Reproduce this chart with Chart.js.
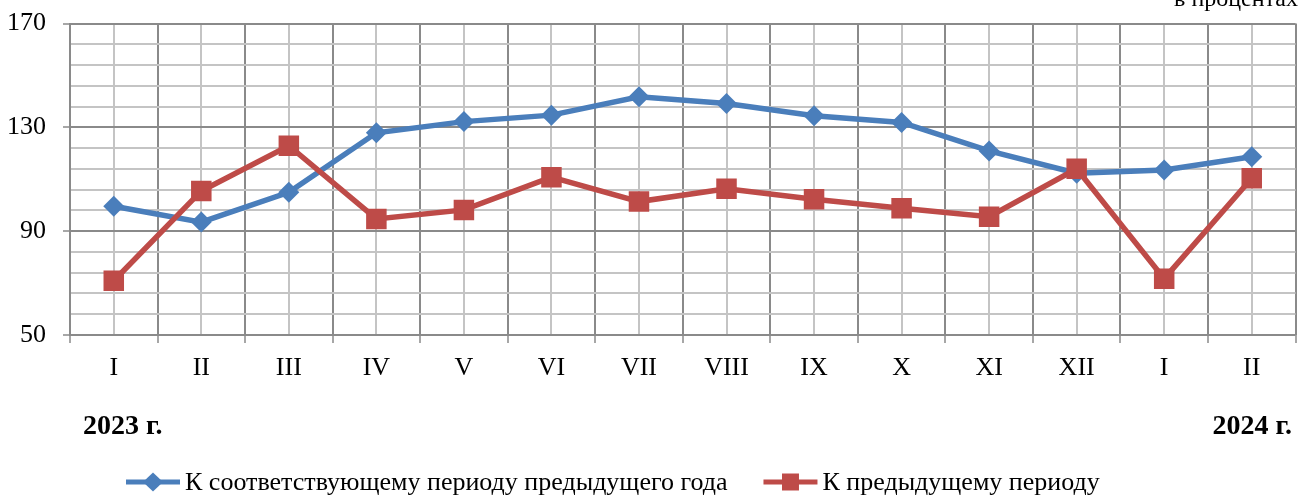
<!DOCTYPE html>
<html>
<head>
<meta charset="utf-8">
<script src="https://cdn.jsdelivr.net/npm/chart.js@4/dist/chart.umd.min.js"></script>
<style>
  html, body { margin: 0; padding: 0; background: #fff; overflow: hidden; }
  #wrap { position: relative; width: 1310px; height: 497px; }
</style>
</head>
<body>
<div id="wrap"><canvas id="chart"></canvas></div>
<script>
    // данные
    const months = ['I', 'II', 'III', 'IV', 'V', 'VI', 'VII', 'VIII', 'IX', 'X', 'XI', 'XII', 'I', 'II'];
    const yoy = [99.6, 93.5, 105.0, 127.9, 132.2, 134.7, 141.8, 139.2, 134.5, 131.9, 120.9, 112.3, 113.6, 118.7];
    const mom = [70.9, 105.5, 122.9, 94.7, 98.2, 110.8, 101.4, 106.3, 102.3, 98.8, 95.6, 114.0, 71.7, 110.4];
    const seriesNames = ['К соответствующему периоду предыдущего года', 'К предыдущему периоду'];
    const yMajorTicks = [50, 90, 130, 170];
    const yMinorStep = 8;
    const yearLabels = ['2023 г.', '2024 г.'];
    const unitLabel = 'в процентах';

    const FONT = '"Liberation Serif", "Times New Roman", serif';
    const DARK = '#8a8a8a';
    const LIGHT = '#c4c4c4';
    const BLUE = '#4a7ebb';
    const RED = '#be4b48';

    const extras = {
        id: 'extras',
        afterDraw(chart){
            const c = chart.ctx;
            c.save();
            c.fillStyle = '#000';
            c.textBaseline = 'alphabetic';
            // подпись единиц
            c.font = '24px ' + FONT;
            c.textAlign = 'right';
            c.fillText(unitLabel, 1298, 6);
            // годы
            c.font = 'bold 28px ' + FONT;
            c.textAlign = 'left';
            c.fillText(yearLabels[0], 83, 434);
            c.textAlign = 'right';
            c.fillText(yearLabels[1], 1292, 434);

            // легенда
            c.font = '26px ' + FONT;
            c.textAlign = 'left';
            c.textBaseline = 'middle';
            const y = 482;
            let x = 126;
            chart.data.datasets.forEach(ds => {
                c.strokeStyle = ds.borderColor;
                c.lineWidth = 5;
                c.beginPath();
                c.moveTo(x, y);
                c.lineTo(x + 54, y);
                c.stroke();
                c.fillStyle = ds.backgroundColor;
                c.beginPath();
                if(ds.pointStyle === 'rect') c.rect(x + 27 - 8.5, y - 8.5, 17, 17);
                else { c.moveTo(x + 27, y - 9.5); c.lineTo(x + 37, y); c.lineTo(x + 27, y + 9.5); c.lineTo(x + 17, y); c.closePath(); }
                c.fill();
                c.fillStyle = '#000';
                c.fillText(ds.label, x + 59, y + 1);
                x += 59 + c.measureText(ds.label).width + 36;
            });
            c.restore();
        }
    };

    new Chart(document.getElementById('chart'), {
        type: 'line',
        data: {
            labels: months,
            datasets: [{
                label: seriesNames[0],
                data: yoy,
                borderColor: BLUE,
                backgroundColor: BLUE,
                borderWidth: 5.5,
                pointStyle: 'rectRot',
                pointRadius: 10.5,
                pointBorderWidth: 0,
                tension: 0,
                order: 1
            }, {
                label: seriesNames[1],
                data: mom,
                borderColor: RED,
                backgroundColor: RED,
                borderWidth: 5.5,
                pointStyle: 'rect',
                pointRadius: 14.5,
                pointBorderWidth: 0,
                tension: 0,
                order: 0
            }]
        },
        options: {
            responsive: true,
            maintainAspectRatio: false,
            animation: false,
            events: [],
            layout: { padding: { left: 0, top: 23, right: 4, bottom: 0 } },
            plugins: { legend: { display: false }, tooltip: { enabled: false } },
            scales: {
                x: {
                    offset: true,
                    grid: { offset: true, color: DARK, lineWidth: 2, tickLength: 8, tickColor: DARK, tickWidth: 1.5 },
                    border: { display: false },
                    ticks: { color: '#000', font: { family: FONT, size: 26 }, padding: 10, maxRotation: 0, autoSkip: false },
                    afterFit(s){ s.height = 162; }
                },
                x2: {
                    type: 'category',
                    labels: months,
                    position: 'bottom',
                    offset: true,
                    grid: { offset: false, color: LIGHT, lineWidth: 2, drawTicks: false },
                    border: { display: false },
                    ticks: { display: false },
                    afterFit(s){ s.height = 0; }
                },
                y: {
                    min: yMajorTicks[0],
                    max: yMajorTicks[yMajorTicks.length - 1],
                    afterBuildTicks(s){
                        const t = [];
                        for(let v = s.min; v <= s.max; v += yMinorStep) t.push({value: v});
                        s.ticks = t;
                    },
                    grid: {
                        lineWidth: 2,
                        color: ctx => yMajorTicks.includes(ctx.tick.value) ? DARK : LIGHT,
                        tickColor: ctx => yMajorTicks.includes(ctx.tick.value) ? DARK : 'rgba(0,0,0,0)',
                        tickLength: 7,
                        tickWidth: 1.5
                    },
                    border: { display: true, color: DARK, width: 2 },
                    ticks: {
                        color: '#000',
                        font: { family: FONT, size: 26, lineHeight: 0.5 },
                        padding: 17,
                        autoSkip: false,
                        callback: v => yMajorTicks.includes(v) ? String(v) : ''
                    },
                    afterFit(s){ s.width = 70; }
                }
            }
        },
        plugins: [extras]
    });
</script>
</body>
</html>
